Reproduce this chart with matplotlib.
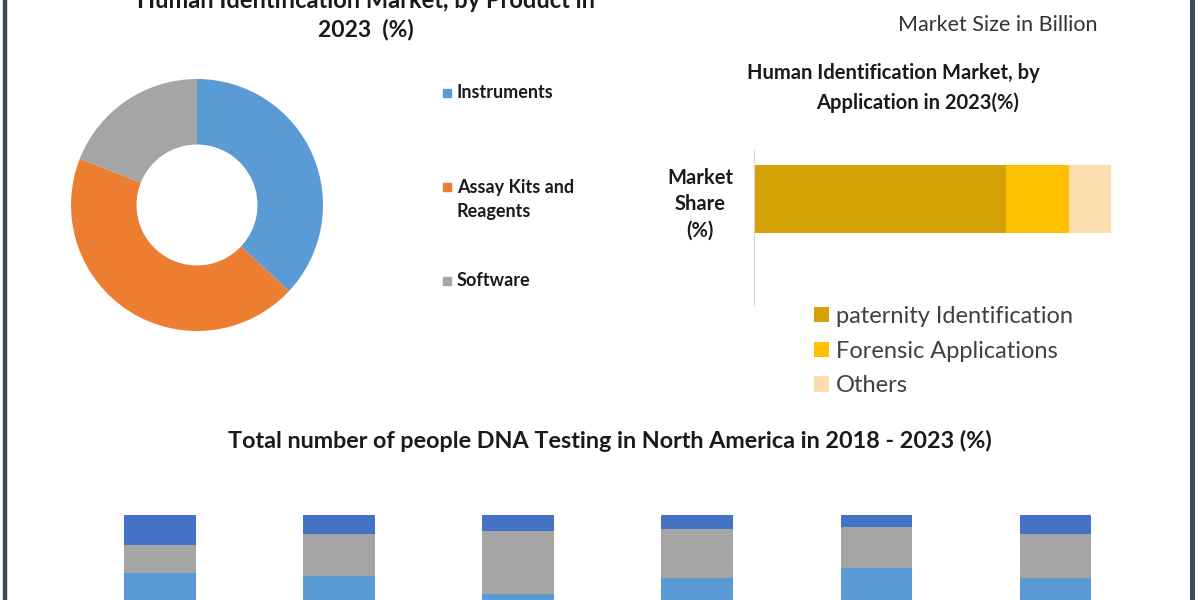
import matplotlib
matplotlib.use("Agg")
import matplotlib.pyplot as plt
from matplotlib.patches import Rectangle
from matplotlib.lines import Line2D
from matplotlib.transforms import ScaledTranslation

plt.rcParams['font.family'] = ['Lato', 'DejaVu Sans']

# ---------------- data ----------------
product_labels = ["Instruments", "Assay Kits and\nReagents", "Software"]
product_shares = [37, 44, 19]
product_colors = ["#5B9BD5", "#ED7D31", "#A5A5A5"]

application_labels = ["paternity Identification", "Forensic Applications", "Others"]
application_shares = [70.5, 17.7, 11.8]
application_colors = ["#D4A106", "#FFC000", "#FCDDB0"]
application_category = ["Market\nShare\n(%)"]

years = ["2018", "2019", "2020", "2021", "2022", "2023"]
series_bottom = [67, 65, 55, 64, 70, 64]
series_middle = [16, 24, 36, 28, 23, 25]
series_top = [17, 11, 9, 8, 7, 11]
series_colors = ["#5B9BD5", "#A5A5A5", "#4472C4"]

W, H = 1200, 600
def fx(px):
    return px / W
def fy(py):
    return 1 - py / H

fig = plt.figure(figsize=(12, 6), dpi=100)
fig.patch.set_facecolor("white")

TXT = "#1A1A1A"

# ---------------- donut ----------------
ax1 = fig.add_axes([fx(197 - 126), fy(205 + 126), 252 / W, 252 / H])
ax1.pie(product_shares, colors=product_colors, startangle=90, counterclock=False,
        radius=1, wedgeprops=dict(width=0.52, edgecolor="none"))
ax1.set_xlim(-1, 1)
ax1.set_ylim(-1, 1)
ax1.set_aspect("equal")
ax1.axis("off")

fig.text(fx(366), fy(0), "Human Identification Market, by Product in",
         ha="center", va="center", fontsize=17, fontweight="bold", color=TXT)
fig.text(fx(366), fy(30), "2023  (%)", ha="center", va="center",
         fontsize=16.5, fontweight="bold", color=TXT)

leg_y = [93, 187, 281]
for lab, col, y in zip(product_labels, product_colors, leg_y):
    fig.add_artist(Rectangle((fx(443), fy(y + 4)), 8 / W, 8 / H,
                             transform=fig.transFigure, color=col))
    for i, line in enumerate(lab.split("\n")):
        fig.text(fx(457), fy(y + 24 * i), line, ha="left", va="center",
                 fontsize=13, fontweight="bold", color=TXT)

# ---------------- horizontal stacked bar ----------------
ax2 = fig.add_axes([fx(754), fy(305), (1111 - 754) / W, 155 / H])
left = 0
bars = []
for lab, val, col in zip(application_labels, application_shares, application_colors):
    b = ax2.barh([0], [val], left=left, height=1, color=col, label=lab)
    bars.append(b)
    left += val
ax2.set_xlim(0, 100)
ax2.set_ylim(-1.56, 0.72)
for s in ["top", "right", "bottom"]:
    ax2.spines[s].set_visible(False)
ax2.spines["left"].set_color("#D9D9D9")
ax2.set_xticks([])
ax2.set_yticks([0])
ax2.set_yticklabels(application_category, fontsize=14.5, fontweight="bold", color=TXT)
shift_up = ScaledTranslation(0, 3 / 100, fig.dpi_scale_trans)
for t in ax2.get_yticklabels():
    t.set_multialignment("center")
    t.set_linespacing(1.4)
    t.set_transform(t.get_transform() + shift_up)
ax2.tick_params(axis="y", length=0, pad=15)

fig.text(fx(893), fy(73), "Human Identification Market, by", ha="center", va="center",
         fontsize=14.5, fontweight="bold", color=TXT)
fig.text(fx(918), fy(103), "Application in 2023(%)", ha="center", va="center",
         fontsize=14.5, fontweight="bold", color=TXT)

fig.legend(handles=bars, labels=application_labels, loc="upper left",
           bbox_to_anchor=(fx(814), fy(306)), frameon=False, fontsize=17,
           handlelength=0.62, handleheight=0.62, handletextpad=0.3,
           labelspacing=0.58, borderpad=0, borderaxespad=0, labelcolor="#404040")

fig.text(fx(998), fy(25), "Market Size in Billion", ha="center", va="center",
         fontsize=15.5, color="#333333")

# ---------------- bottom stacked columns ----------------
fig.text(fx(610), fy(441),
         "Total number of people DNA Testing in North America in 2018 - 2023 (%)",
         ha="center", va="center", fontsize=16.8, fontweight="bold", color=TXT)

ax3 = fig.add_axes([fx(70.5), fy(690), (1145 - 70.5) / W, 175 / H])
xs = range(len(years))
ax3.bar(xs, series_bottom, width=0.4, color=series_colors[0])
ax3.bar(xs, series_middle, width=0.4, bottom=series_bottom, color=series_colors[1])
base2 = [a + b for a, b in zip(series_bottom, series_middle)]
ax3.bar(xs, series_top, width=0.4, bottom=base2, color=series_colors[2])
ax3.set_xlim(-0.5, 5.5)
ax3.set_ylim(0, 100)
ax3.set_xticks(list(xs))
ax3.set_xticklabels(years)
ax3.tick_params(axis="x", labelbottom=False, length=0)
ax3.set_yticks([])
for s in ["top", "right", "left", "bottom"]:
    ax3.spines[s].set_visible(False)

# ---------------- frame lines ----------------
fig.add_artist(Line2D([fx(5), fx(5)], [0, 1], transform=fig.transFigure,
                      color="#3B4A5E", lw=3.2))
fig.add_artist(Line2D([fx(1192), fx(1192)], [0, 1], transform=fig.transFigure,
                      color="#3B4A5E", lw=3.6))

fig.savefig("out.png", dpi=100, facecolor="white")
